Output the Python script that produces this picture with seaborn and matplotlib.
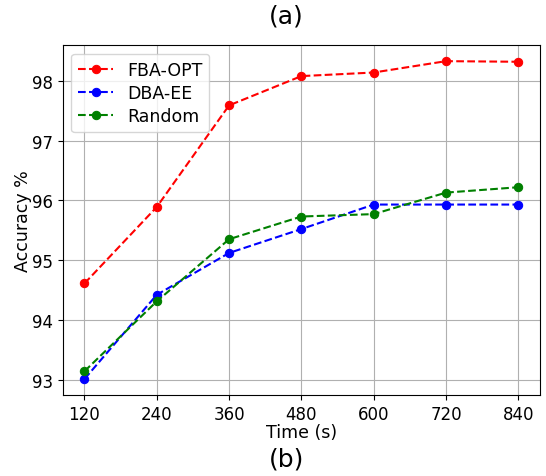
import pandas as pd
import numpy as np
import matplotlib
matplotlib.use("Agg")
import matplotlib.pyplot as plt
import seaborn as sns

time_s = [120, 240, 360, 480, 600, 720, 840]
fba_opt = [94.61, 95.89, 97.59, 98.08, 98.14, 98.33, 98.32]
dba_ee = [93.01, 94.42, 95.12, 95.52, 95.93, 95.93, 95.93]
random_acc = [93.14, 94.31, 95.35, 95.73, 95.77, 96.13, 96.22]

series = {"FBA-OPT": (fba_opt, "red"), "DBA-EE": (dba_ee, "blue"), "Random": (random_acc, "green")}

fig, ax = plt.subplots(figsize=(5.46, 4.77), dpi=100)
fig.subplots_adjust(left=0.115, right=0.989, top=0.903, bottom=0.170)

for name, (vals, col) in series.items():
    df = pd.DataFrame({"time": time_s, "acc": vals})
    sns.lineplot(data=df, x="time", y="acc", ax=ax, color=col, linestyle="--",
                 marker="o", markersize=6, markeredgecolor=col, label=name)

ax.set_xticks(time_s)
ax.tick_params(labelsize=12)
ax.grid(True, color="#b0b0b0", linewidth=0.8)
ax.set_xlabel("Time (s)", fontsize=12.5, labelpad=0)
ax.set_ylabel("Accuracy %", fontsize=12.5, labelpad=0)
ax.legend(loc="upper left", fontsize=12.5, labelspacing=0.3)
fig.text(0.525, 0.965, "(a)", ha="center", va="center", fontsize=18)
fig.text(0.525, 0.036, "(b)", ha="center", va="center", fontsize=18)

fig.savefig("out.png", dpi=100)
